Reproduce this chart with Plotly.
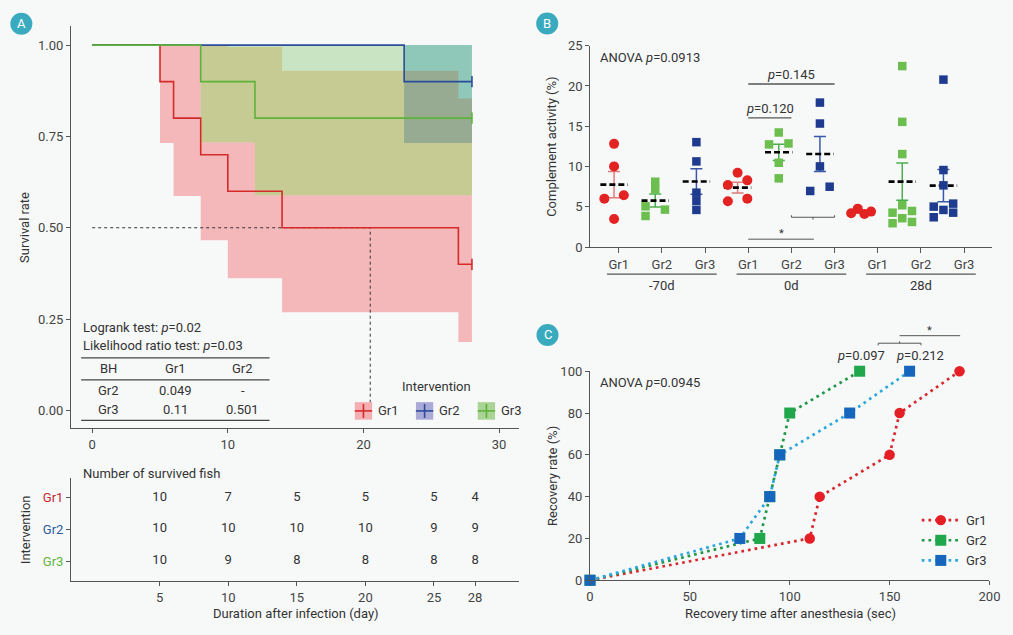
import numpy as np
import plotly.graph_objects as go

W, H = 1013, 635
BG = "#F7F9F9"
INK = "#333333"
AXIS = "#555555"
FONT = "Roboto"
BADGE = "#3AABBE"

# ---------------- panel A : survival ----------------
gr1_time = [0, 5, 6, 8, 10, 14, 27, 28]
gr1_surv = [1.0, 0.9, 0.8, 0.7, 0.6, 0.5, 0.4, 0.4]
gr2_time = [0, 23, 28]
gr2_surv = [1.0, 0.9, 0.9]
gr3_time = [0, 8, 12, 28]
gr3_surv = [1.0, 0.9, 0.8, 0.8]

gr1_ci_time = [5, 6, 8, 10, 14, 27, 28]
gr1_ci_low = [0.732, 0.587, 0.466, 0.362, 0.269, 0.187, 0.187]
gr1_ci_high = [1.0, 1.0, 1.0, 0.995, 0.93, 0.854, 0.854]
gr2_ci_time = [23, 28]
gr2_ci_low = [0.732, 0.732]
gr2_ci_high = [1.0, 1.0]
gr3_ci_time = [8, 12, 28]
gr3_ci_low = [0.734, 0.589, 0.589]
gr3_ci_high = [1.0, 1.0, 1.0]

median_day = 20.5

risk_times = [5, 10, 15, 20, 25, 28]
gr1_risk = [10, 7, 5, 5, 5, 4]
gr2_risk = [10, 10, 10, 10, 9, 9]
gr3_risk = [10, 9, 8, 8, 8, 8]

bh_header = ["BH", "Gr1", "Gr2"]
bh_rows = [["Gr2", "0.049", "-"], ["Gr3", "0.11", "0.501"]]

# ---------------- panel B : complement activity ----------------
b_days = ["-70d", "0d", "28d"]
b_groups = ["Gr1", "Gr2", "Gr3"]
comp_m70_gr1 = [12.82, 10.02, 6.43, 6.02, 3.5]
comp_m70_gr2 = [8.12, 7.18, 5.07, 4.66, 3.87]
comp_m70_gr3 = [13.03, 10.64, 6.76, 5.73, 4.62]
comp_0_gr1 = [9.23, 8.29, 7.71, 6.02, 5.69]
comp_0_gr2 = [14.23, 12.87, 12.75, 10.47, 8.54]
comp_0_gr3 = [17.94, 15.34, 10.02, 7.5, 6.97]
comp_28_gr1 = [4.78, 4.41, 4.2, 4.12]
comp_28_gr2 = [22.47, 15.55, 11.55, 5.2, 4.49, 4.28, 3.59, 3.13, 2.97]
comp_28_gr3 = [20.79, 9.57, 7.67, 5.4, 5.03, 4.62, 4.28, 3.71]

# ---------------- panel C : recovery ----------------
c_rate = [0, 20, 40, 60, 80, 100]
c_gr1_time = [0, 110, 115, 150, 155, 185]
c_gr2_time = [0, 85, 90, 95, 100, 135]
c_gr3_time = [0, 75, 90, 95, 130, 160]

# the photographed page comes out slightly shrunk and shifted; place things
# in "photo" pixels and convert back to page fractions
SX, OX = 0.983, 5.0
SY, OY = 0.979, 5.5


def px(x):
    return ((x - OX) / SX) / W


def py(y):
    return 1 - ((y - OY) / SY) / H


RED, BLUE, GREEN = "#D62A2A", "#2B4C9B", "#5DB33A"

fig = go.Figure()


# confidence bands: paint each band and each overlap with its own flat colour
def step_at(t, v, grid):
    t = np.asarray(t, float)
    v = np.asarray(v, float)
    out = np.full(len(grid), np.nan)
    for i, g in enumerate(grid):
        k = np.searchsorted(t, g, side="right") - 1
        if 0 <= k and g <= t[-1]:
            out[i] = v[k]
    return out


def overlap(bands_in, grid):
    lo = np.max([step_at(t, l, grid) for t, l, h in bands_in], axis=0)
    hi = np.min([step_at(t, h, grid) for t, l, h in bands_in], axis=0)
    bad = np.isnan(lo) | np.isnan(hi) | (lo >= hi)
    lo[bad] = 0.5
    hi[bad] = 0.5
    return lo, hi


band1 = (gr1_ci_time, gr1_ci_low, gr1_ci_high)
band2 = (gr2_ci_time, gr2_ci_low, gr2_ci_high)
band3 = (gr3_ci_time, gr3_ci_low, gr3_ci_high)
grid = np.unique(np.concatenate([gr1_ci_time, gr2_ci_time, gr3_ci_time]).astype(float))

paint = [
    ([band1], "#F5B8BA"),
    ([band3], "#C9E4C2"),
    ([band1, band3], "#C5CB92"),
    ([band2, band3], "#8FC8B9"),
    ([band1, band2, band3], "#97AB93"),
]
for group, colour in paint:
    lo, hi = overlap(group, grid)
    fig.add_trace(go.Scatter(x=grid, y=lo, mode="lines", line=dict(width=0, shape="hv"),
                             hoverinfo="skip", showlegend=False, xaxis="x", yaxis="y"))
    fig.add_trace(go.Scatter(x=grid, y=hi, mode="lines", line=dict(width=0, shape="hv"),
                             fill="tonexty", fillcolor=colour, hoverinfo="skip",
                             showlegend=False, xaxis="x", yaxis="y"))

# median lines
fig.add_trace(go.Scatter(x=[0, median_day, median_day], y=[0.5, 0.5, 0], mode="lines",
                         line=dict(color="#333", width=1, dash="3px,3px"),
                         showlegend=False, xaxis="x", yaxis="y"))

for t, s, c in [(gr1_time, gr1_surv, RED), (gr2_time, gr2_surv, BLUE), (gr3_time, gr3_surv, GREEN)]:
    fig.add_trace(go.Scatter(x=t, y=s, mode="lines", line=dict(color=c, width=1.6, shape="hv"),
                             showlegend=False, xaxis="x", yaxis="y"))
    fig.add_trace(go.Scatter(x=[t[-1]], y=[s[-1]], mode="markers",
                             marker=dict(symbol="line-ns-open", size=8, color=c,
                                         line=dict(width=1.6, color=c)),
                             showlegend=False, xaxis="x", yaxis="y", cliponaxis=False))

# risk table
for row, vals in enumerate([gr1_risk, gr2_risk, gr3_risk]):
    fig.add_trace(go.Scatter(x=risk_times, y=[3 - row] * len(vals), mode="text",
                             text=[str(v) for v in vals],
                             textfont=dict(family=FONT, size=13, color=INK),
                             showlegend=False, xaxis="x2", yaxis="y2"))


# ---------------- B ----------------
def swarm(vals, ppu_y=8.08, ppu_x=41.08, step=9.7, link=7.0, gap=9.0):
    v = np.asarray(vals, float)
    order = np.argsort(v)
    ys = v[order] * ppu_y
    chains, cur = [], [0]
    for i in range(1, len(ys)):
        if ys[i] - ys[i - 1] < link:
            cur.append(i)
        else:
            chains.append(cur)
            cur = [i]
    chains.append(cur)
    xs = np.zeros(len(ys))
    placed = []
    cands = [-step, step, 0.0, -step / 2, step / 2]
    for ch in chains:
        n = len(ch)
        for i in ch:
            k = ch.index(i)
            if n > 3 and max(ys[ch]) - min(ys[ch]) < 6:
                # a tight clump: squeeze it into one zig-zag row
                slot = k // 2 + (n // 2 if k % 2 == 0 else 0)
                xs[i] = (slot - (n - 1) / 2) * 6.6
            elif n > 1:
                best, best_d = 0.0, -1
                for c in cands:
                    d = min([np.hypot(c - a, ys[i] - b) for a, b in placed] or [1e9])
                    if d >= gap:
                        best = c
                        break
                    if d > best_d:
                        best, best_d = c, d
                xs[i] = best
            placed.append((xs[i], ys[i]))
    out = np.zeros(len(v))
    out[order] = xs / ppu_x
    return out


b_data = [comp_m70_gr1, comp_m70_gr2, comp_m70_gr3,
          comp_0_gr1, comp_0_gr2, comp_0_gr3,
          comp_28_gr1, comp_28_gr2, comp_28_gr3]
b_marker = {"Gr1": ("circle", "#E32322", 10), "Gr2": ("square", "#6CBE4F", 8.5),
            "Gr3": ("square", "#1F3B8F", 8.5)}
b_err = {"Gr1": "#E07B7B", "Gr2": "#4DAE4F", "Gr3": "#3A58A8"}

for k, vals in enumerate(b_data):
    g = b_groups[k % 3]
    centre = k + 1
    v = np.asarray(vals, float)
    m = v.mean()
    sem = v.std(ddof=1) / np.sqrt(len(v))
    fig.add_trace(go.Scatter(x=[centre], y=[m], mode="markers",
                             marker=dict(size=1, color="rgba(0,0,0,0)"),
                             error_y=dict(type="data", array=[sem], color=b_err[g], thickness=1.5, width=6),
                             showlegend=False, xaxis="x4", yaxis="y3"))
    fig.add_trace(go.Scatter(x=[centre - 0.333, centre + 0.333], y=[m, m], mode="lines",
                             line=dict(color="black", width=2.6, dash="6px,3px"),
                             showlegend=False, xaxis="x4", yaxis="y3"))
for k, vals in enumerate(b_data):
    g = b_groups[k % 3]
    sym, col, sz = b_marker[g]
    fig.add_trace(go.Scatter(x=(k + 1) + swarm(vals), y=vals, mode="markers",
                             marker=dict(symbol=sym, color=col, size=sz),
                             showlegend=False, xaxis="x4", yaxis="y3", cliponaxis=False))

# ---------------- C ----------------
c_style = [
    ("Gr1", c_gr1_time, "#D7282E", "#E41F26", "circle", 10.5),
    ("Gr2", c_gr2_time, "#1E9646", "#20A64B", "square", 11),
    ("Gr3", c_gr3_time, "#2BA6DE", "#1766BE", "square", 11),
]
for name, t, lc, mc, sym, sz in c_style:
    fig.add_trace(go.Scatter(x=t, y=c_rate, mode="lines+markers",
                             line=dict(color=lc, width=2.7, dash="2.7px,4px"),
                             marker=dict(symbol=sym, color=mc, size=sz),
                             showlegend=False, xaxis="x5", yaxis="y5", cliponaxis=False))

# ---------------- axes ----------------
tickfont = dict(family=FONT, size=13, color="#444")
common = dict(showline=True, linecolor=AXIS, linewidth=1.3, ticks="outside", tickcolor=AXIS,
              ticklen=4, tickwidth=1.2, showgrid=False, zeroline=False, tickfont=tickfont)

fig.update_layout(
    xaxis=dict(common, domain=[px(72), px(519)], range=[-1.552, 31.48], tickvals=[0, 10, 20, 30], anchor="y"),
    yaxis=dict(common, domain=[py(427.7), py(25)], range=[-0.0483, 1.051],
               tickvals=[0, 0.25, 0.5, 0.75, 1], tickformat=".2f", anchor="x"),
    xaxis2=dict(common, domain=[px(72), px(519)], range=[-1.455, 31.21], tickvals=risk_times, anchor="y2"),
    yaxis2=dict(common, domain=[py(581), py(478)], range=[0.372, 3.606], tickvals=[3, 2, 1],
                ticktext=['<span style="color:%s">Gr%d</span>' % (c, i + 1)
                          for i, c in enumerate(["#C8262C", "#2D5C9E", "#63B33C"])], anchor="x2"),
    xaxis3=dict(common, domain=[px(590), px(990.7)], range=[0.343, 9.643], ticklen=5,
                tickvals=list(range(1, 10)), ticktext=b_groups * 3, anchor="y3"),
    xaxis4=dict(domain=[px(590), px(990.7)], range=[0.423, 10.177], overlaying="x3", visible=False, anchor="y3"),
    yaxis3=dict(common, domain=[py(246.3), py(44.3)], range=[0, 25], tickvals=[0, 5, 10, 15, 20, 25], anchor="x3"),
    xaxis5=dict(common, domain=[px(589.7), px(988.3)], range=[0, 200], tickvals=[0, 50, 100, 150, 200], anchor="y5"),
    yaxis5=dict(common, domain=[py(580.3), py(370.7)], range=[0, 100], tickvals=[0, 20, 40, 60, 80, 100], anchor="x5"),
)

ann = []
shapes = []


def text(x, y, s, size=13, anchor="center", angle=0, color=INK, **kw):
    ann.append(dict(x=x, y=y, xref=kw.pop("xref", "paper"), yref=kw.pop("yref", "paper"), text=s,
                    showarrow=False, xanchor=anchor, yanchor="middle", textangle=angle,
                    font=dict(family=FONT, size=size, color=color), **kw))


def hline(x0, x1, y, color="#444", width=1.3, **kw):
    shapes.append(dict(type="line", x0=x0, x1=x1, y0=y, y1=y, xref=kw.pop("xref", "paper"),
                       yref=kw.pop("yref", "paper"), line=dict(color=color, width=width, **kw)))


def vline(x, y0, y1, color="#444", width=1.3, **kw):
    shapes.append(dict(type="line", x0=x, x1=x, y0=y0, y1=y1, xref=kw.pop("xref", "paper"),
                       yref=kw.pop("yref", "paper"), line=dict(color=color, width=width, **kw)))


# badges
for letter, cx_, cy_ in [("A", 22.3, 22.3), ("B", 547, 22), ("C", 547.3, 334.3)]:
    shapes.append(dict(type="circle", xref="paper", yref="paper", x0=px(cx_ - 11), x1=px(cx_ + 11),
                       y0=py(cy_ + 11), y1=py(cy_ - 11), fillcolor=BADGE, line=dict(width=0)))
    text(px(cx_), py(cy_), letter, size=13, color="white")

# axis titles
text(px(26), py(227), "Survival rate", angle=-90)
text(px(26), py(530), "Intervention", angle=-90)
text(px(296), py(614), "Duration after infection (day)")
text(px(551.7), py(145.8), "Complement activity (%)", angle=-90)
text(px(551.7), py(475.8), "Recovery rate (%)", angle=-90)
text(px(789.3), py(614), "Recovery time after anesthesia (sec)")
text(px(82), py(473), "Number of survived fish", anchor="left")

# stats table panel A
text(px(82), py(327), "Logrank test: <i>p</i>=0.02", anchor="left")
text(px(82), py(345), "Likelihood ratio test: <i>p</i>=0.03", anchor="left")
col_x = [109, 176, 243.3]
for j, h in enumerate(bh_header):
    text(px(col_x[j]), py(367.7), h)
for i, row in enumerate(bh_rows):
    for j, cell in enumerate(row):
        text(px(col_x[j]), py(390 + i * 18.7), cell)
for yy in [357.3, 379.3, 420]:
    hline(px(82), px(270), py(yy))

# legend panel A
text(px(436.7), py(386), "Intervention")
for name, x0, fill, c in [("Gr1", 355, "#F3AFB2", RED), ("Gr2", 416, "#AAAAD7", BLUE), ("Gr3", 477.7, "#AAD496", GREEN)]:
    shapes.append(dict(type="rect", xref="paper", yref="paper", x0=px(x0), x1=px(x0 + 17.3),
                       y0=py(419.3), y1=py(401.7), fillcolor=fill, line=dict(width=0)))
    hline(px(x0), px(x0 + 17.3), py(410.5), color=c, width=1.6)
    vline(px(x0 + 8.65), py(403.5), py(417.5), color=c, width=1.6)
    text(px(x0 + 21), py(410.5), name, anchor="left")

# panel B annotations
text(px(598), py(56), "ANOVA <i>p</i>=0.0913", anchor="left")
for i, d in enumerate(b_days):
    c = 2 + 3 * i
    hline(c - 1.27, c + 1.27, py(273.3), xref="x3", color="#555")
    text(c, py(285), d, xref="x3")
hline(4, 6, 20.25, xref="x3", yref="y3", color="#555")
text(5, 21.45, "<i>p</i>=0.145", xref="x3", yref="y3")
hline(4, 5, 16.04, xref="x3", yref="y3", color="#555")
text(4.5, 17.24, "<i>p</i>=0.120", xref="x3", yref="y3")
hline(5, 6, 3.71, xref="x3", yref="y3", color="#555", width=1)
vline(5, 3.71, 3.96, xref="x3", yref="y3", color="#555", width=1)
vline(6, 3.71, 3.96, xref="x3", yref="y3", color="#555", width=1)
vline(5.5, 3.71, 3.42, xref="x3", yref="y3", color="#555", width=1)
hline(4, 5.52, 0.99, xref="x3", yref="y3", color="#555", width=1)
text(4.76, 1.75, "*", xref="x3", yref="y3", size=11)


# panel C annotations
def cx(v):
    return px(589.7 + v * 1.993)


def cy(v):
    return py(580.3 - v * 2.096)


text(px(598), py(382.3), "ANOVA <i>p</i>=0.0945", anchor="left")
text(cx(135.6), cy(107.5), "<i>p</i>=0.097")
text(cx(165.3), cy(107.5), "<i>p</i>=0.212")
hline(cx(144.3), cx(165.7), cy(113.4), color="#555", width=1)
vline(cx(144.3), cy(113.4), cy(112.4), color="#555", width=1)
vline(cx(165.7), cy(113.4), cy(112.4), color="#555", width=1)
vline(cx(155), cy(113.4), cy(114.3), color="#555", width=1)
hline(cx(155), cx(185.3), cy(117.0), color="#555", width=1)
text(cx(170.1), cy(119.5), "*", size=11)

# legend panel C
for i, (name, t, lc, mc, sym, sz) in enumerate(c_style):
    yy = 520 + i * 20.2
    hline(px(920.7), px(959.3), py(yy), color=lc, width=2.7, dash="2.7px,4px")
    r = sz / 2
    shapes.append(dict(type="circle" if sym == "circle" else "rect", xref="paper", yref="paper",
                       x0=px(939.7 - r), x1=px(939.7 + r), y0=py(yy + r), y1=py(yy - r),
                       fillcolor=mc, line=dict(width=0)))
    text(px(962.7), py(yy), name, anchor="left")

fig.update_layout(
    width=W, height=H, autosize=False,
    margin=dict(l=0, r=0, t=0, b=0),
    paper_bgcolor=BG, plot_bgcolor=BG,
    font=dict(family=FONT, size=13, color=INK),
    showlegend=False,
    annotations=ann, shapes=shapes,
)

# pin the graph to the top-left corner of the page so nothing scrolls
pin = ("document.documentElement.style.margin='0';"
       "document.documentElement.style.overflow='hidden';"
       "document.documentElement.style.background='%s';"
       "document.body.style.margin='0';document.body.style.overflow='hidden';"
       "document.body.style.background='%s';"
       "var g=document.getElementsByClassName('plotly-graph-div')[0];"
       "g.style.position='fixed';g.style.left='0px';g.style.top='0px';") % (BG, BG)
fig.write_html("out.html", config={"displayModeBar": False}, post_script=pin)
